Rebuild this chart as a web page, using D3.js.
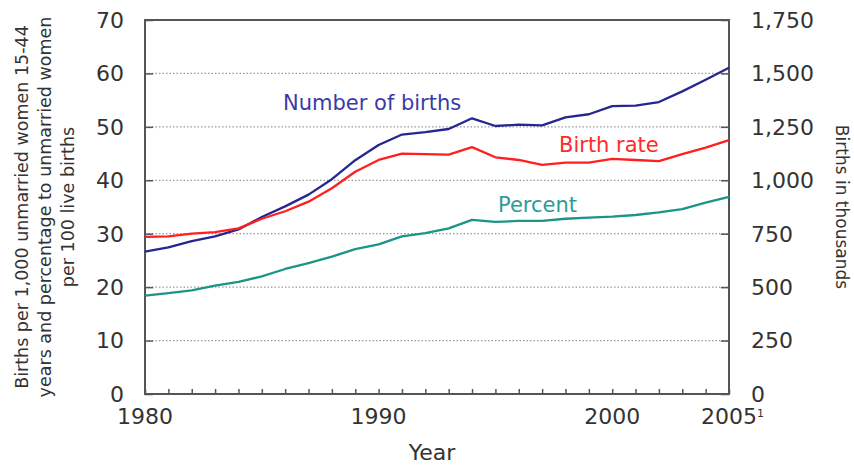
<!DOCTYPE html>
<html>
<head>
<meta charset="utf-8">
<script src="https://cdn.jsdelivr.net/npm/d3@7"></script>
<style>
  body { margin: 0; background: #fff; }
  svg { display: block; font-family: "DejaVu Sans", sans-serif; }
</style>
</head>
<body>
<svg id="chart" width="854" height="469"></svg>
<script>
// data
const years = d3.range(1980, 2006);
// births to unmarried women, thousands (right axis)
const births = [666, 686, 715, 738, 770, 828, 878, 933, 1005, 1094, 1165, 1214, 1225, 1240, 1290,
  1254, 1260, 1257, 1294, 1309, 1347, 1349, 1366, 1416, 1470, 1527];
// births per 1,000 unmarried women 15-44
const birthRate = [29.4, 29.5, 30.0, 30.3, 31.0, 32.8, 34.2, 36.0, 38.5, 41.6, 43.8, 45.0, 44.9, 44.8, 46.2,
  44.3, 43.8, 42.9, 43.3, 43.3, 44.0, 43.8, 43.6, 44.9, 46.1, 47.5];
// percent of births to unmarried women
const percent = [18.4, 18.9, 19.4, 20.3, 21.0, 22.0, 23.4, 24.5, 25.7, 27.1, 28.0, 29.5, 30.1, 31.0, 32.6,
  32.2, 32.4, 32.4, 32.8, 33.0, 33.2, 33.5, 34.0, 34.6, 35.8, 36.9];

const leftTicks = [0, 10, 20, 30, 40, 50, 60, 70];
const rightTicks = [0, 250, 500, 750, 1000, 1250, 1500, 1750];
const yearLabels = [1980, 1990, 2000, 2005];

const margin = {top: 20, right: 125, bottom: 75, left: 145};
const W = 854, H = 469;

const svg = d3.select('#chart');

const x = d3.scaleLinear().domain([1980, 2005]).range([margin.left, W - margin.right]);
const yL = d3.scaleLinear().domain([0, 70]).range([H - margin.bottom, margin.top]);
const yR = d3.scaleLinear().domain([0, 1750]).range([H - margin.bottom, margin.top]);

const axisColor = '#555';
const textColor = '#333';

// dotted gridlines
svg.append('g')
  .selectAll('line')
  .data(leftTicks.filter(d => d > 0 && d < 70))
  .join('line')
  .attr('x1', x(1980)).attr('x2', x(2005))
  .attr('y1', d => yL(d)).attr('y2', d => yL(d))
  .attr('stroke', '#999')
  .attr('stroke-width', 1.3)
  .attr('stroke-dasharray', '1.5,2');

// left axis (ticks pointing inward)
const gL = svg.append('g')
  .attr('transform', `translate(${x(1980)},0)`)
  .call(d3.axisRight(yL).tickValues(leftTicks).tickSize(8).tickFormat(''));
gL.select('.domain').remove();
gL.selectAll('line').attr('stroke', axisColor).attr('stroke-width', 1.5);

svg.append('g')
  .selectAll('text')
  .data(leftTicks)
  .join('text')
  .attr('x', 124)
  .attr('y', d => yL(d))
  .attr('dy', '0.36em')
  .attr('text-anchor', 'end')
  .attr('font-size', 22)
  .attr('fill', textColor)
  .text(d => d);

// right axis
const gR = svg.append('g')
  .attr('transform', `translate(${x(2005)},0)`)
  .call(d3.axisLeft(yR).tickValues(rightTicks).tickSize(8).tickFormat(''));
gR.select('.domain').remove();
gR.selectAll('line').attr('stroke', axisColor).attr('stroke-width', 1.5);

svg.append('g')
  .selectAll('text')
  .data(rightTicks)
  .join('text')
  .attr('x', 751)
  .attr('y', d => yR(d))
  .attr('dy', '0.36em')
  .attr('text-anchor', 'start')
  .attr('font-size', 22)
  .attr('fill', textColor)
  .text(d => d3.format(',')(d));

// bottom axis: a tick every year
const gB = svg.append('g')
  .attr('transform', `translate(0,${yL(0)})`)
  .call(d3.axisTop(x).tickValues(years).tickSize(5).tickFormat(''));
gB.select('.domain').remove();
gB.selectAll('line').attr('stroke', axisColor).attr('stroke-width', 1.5);

svg.append('g')
  .selectAll('text')
  .data(yearLabels)
  .join('text')
  .attr('x', d => x(d))
  .attr('y', 424)
  .attr('text-anchor', 'middle')
  .attr('font-size', 22)
  .attr('fill', textColor)
  .text(d => d);

svg.append('text')
  .attr('x', x(2005) + 28)
  .attr('y', 417)
  .attr('font-size', 11)
  .attr('fill', textColor)
  .text('1');

// frame
svg.append('rect')
  .attr('x', x(1980)).attr('y', yL(70))
  .attr('width', x(2005) - x(1980))
  .attr('height', yL(0) - yL(70))
  .attr('fill', 'none')
  .attr('stroke', axisColor)
  .attr('stroke-width', 2);

// lines
const series = [
  {vals: births, y: yR, color: '#262690'},
  {vals: birthRate, y: yL, color: '#ff1f1f'},
  {vals: percent, y: yL, color: '#1c9488'}
];
series.forEach(s => {
  const line = d3.line()
    .x((d, i) => x(years[i]))
    .y(d => s.y(d));
  svg.append('path')
    .datum(s.vals)
    .attr('d', line)
    .attr('fill', 'none')
    .attr('stroke', s.color)
    .attr('stroke-width', 2.3)
    .attr('stroke-linejoin', 'round');
});

// series labels
svg.append('text').attr('x', 283).attr('y', 110).attr('font-size', 21)
  .attr('fill', '#3b3ba3').text('Number of births');
svg.append('text').attr('x', 559).attr('y', 152).attr('font-size', 21)
  .attr('fill', '#ff2a2a').text('Birth rate');
svg.append('text').attr('x', 498).attr('y', 212).attr('font-size', 21)
  .attr('fill', '#2a9d94').text('Percent');

// axis titles
const leftTitle = [
  'Births per 1,000 unmarried women 15-44',
  'years and percentage to unmarried women',
  'per 100 live births'
];
svg.append('g')
  .selectAll('text')
  .data(leftTitle)
  .join('text')
  .attr('transform', (d, i) => `translate(${28 + i * 23},207) rotate(-90)`)
  .attr('text-anchor', 'middle')
  .attr('font-size', 17.5)
  .attr('fill', textColor)
  .text(d => d);

svg.append('text')
  .attr('transform', 'translate(836,207) rotate(90)')
  .attr('text-anchor', 'middle')
  .attr('font-size', 17)
  .attr('fill', textColor)
  .text('Births in thousands');

svg.append('text')
  .attr('x', 432).attr('y', 460)
  .attr('text-anchor', 'middle')
  .attr('font-size', 22)
  .attr('fill', textColor)
  .text('Year');
</script>
</body>
</html>
